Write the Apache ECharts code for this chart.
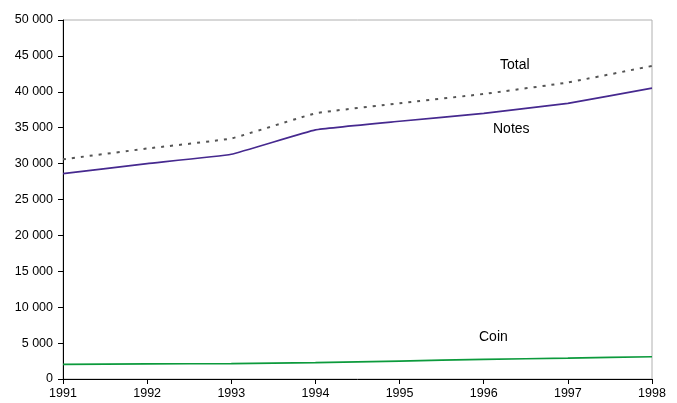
<!DOCTYPE html>
<html>
<head>
<meta charset="utf-8">
<script src="https://cdn.jsdelivr.net/npm/echarts@6/dist/echarts.min.js"></script>
<style>
  html, body { margin: 0; padding: 0; background: #fff; }
  #c1 { width: 677px; height: 403px; }
</style>
</head>
<body>
<div id="c1"></div>
<script>
var years = ['1991', '1992', '1993', '1994', '1995', '1996', '1997', '1998'];
var totalData = [30600, 32100, 33500, 37000, 38400, 39700, 41300, 43600];
var notesData = [28600, 30000, 31300, 34700, 35900, 37000, 38400, 40500];
var coinData = [2050, 2100, 2150, 2270, 2500, 2740, 2900, 3100];

function makeChart(id, option){
  var myChart = echarts.init(document.getElementById(id), null, {renderer: 'canvas'});
  myChart.setOption(option);
  window.onresize = myChart.resize;
}

var textStyle = {fontFamily: 'Liberation Sans, Arial, sans-serif', fontSize: 12, color: '#000'};

var option1 = {
  animation: false,
  textStyle: textStyle,
  grid: {
    left: 63, right: 25, top: 20, bottom: 24,
    show: true, borderColor: '#b0b0b0', borderWidth: 1
  },
  xAxis: {
    type: 'category',
    boundaryGap: false,
    data: years,
    axisLine: {lineStyle: {color: '#000', width: 1}},
    axisTick: {length: 5, lineStyle: {color: '#000'}},
    axisLabel: {color: '#000', fontSize: 12.5, margin: 8, interval: 0}
  },
  yAxis: {
    type: 'value',
    min: 0,
    max: 50000,
    interval: 5000,
    axisLine: {show: true, lineStyle: {color: '#000', width: 1}},
    axisTick: {show: true, length: 5, lineStyle: {color: '#000'}},
    splitLine: {show: false},
    axisLabel: {
      color: '#000', fontSize: 12.5, margin: 10,
      formatter: function(v){
        return String(v).replace(/\B(?=(\d{3})+(?!\d))/g, ' ');
      }
    }
  },
  series: [
    {
      name: 'Total',
      type: 'line',
      data: totalData,
      symbol: 'none',
      smooth: 0.1,
      lineStyle: {color: '#555', width: 2, type: [3, 6]}
    },
    {
      name: 'Notes',
      type: 'line',
      data: notesData,
      symbol: 'none',
      smooth: 0.1,
      lineStyle: {color: '#46298f', width: 1.7}
    },
    {
      name: 'Coin',
      type: 'line',
      data: coinData,
      symbol: 'none',
      smooth: 0.1,
      lineStyle: {color: '#0c9a3c', width: 1.7}
    }
  ],
  graphic: [
    {type: 'text', left: 500, top: 58, style: {text: 'Total', font: '14px Liberation Sans, Arial, sans-serif', fill: '#000'}},
    {type: 'text', left: 493, top: 122, style: {text: 'Notes', font: '14px Liberation Sans, Arial, sans-serif', fill: '#000'}},
    {type: 'text', left: 479, top: 330, style: {text: 'Coin', font: '14px Liberation Sans, Arial, sans-serif', fill: '#000'}}
  ]
};

makeChart('c1', option1);
</script>
</body>
</html>
